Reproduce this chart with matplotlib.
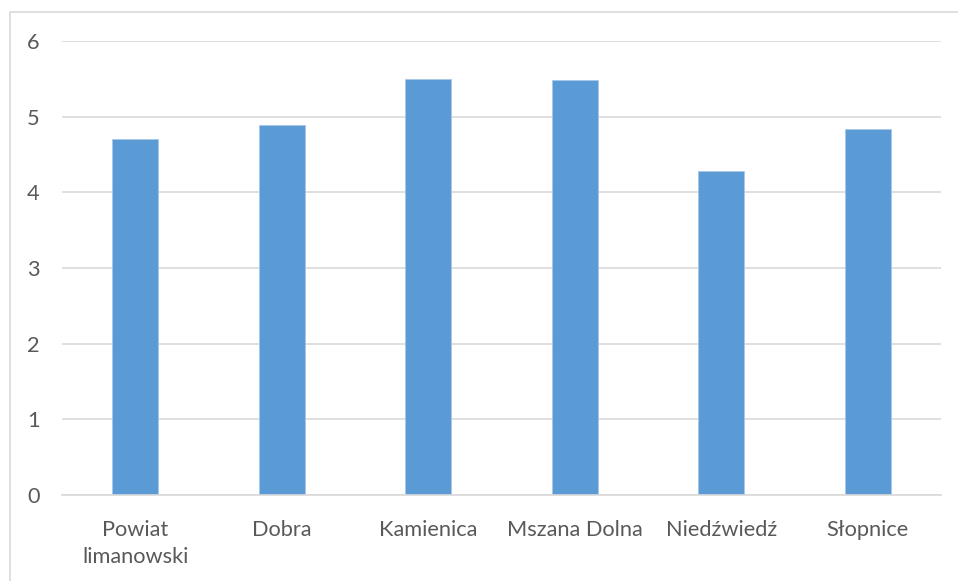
import matplotlib
matplotlib.use('Agg')
from matplotlib import pyplot as plt
from matplotlib.patches import Rectangle


categories = ['Powiat\nlimanowski', 'Dobra', 'Kamienica', 'Mszana Dolna',
              'Niedźwiedź', 'Słopnice']
values = [4.70, 4.89, 5.50, 5.48, 4.28, 4.84]
yticks = [0, 1, 2, 3, 4, 5, 6]

W, H = 958., 581.
bar_color = '#5B9BD5'
grid_color = '#D9D9D9'
text_color = '#595959'

plt.rcParams['font.family'] = ['Lato', 'DejaVu Sans']

fig = plt.figure(figsize=(W / 100., H / 100.), dpi=100)
fig.patch.set_facecolor('white')

# chart area frame (runs off the right and bottom edge)
fig.patches.append(Rectangle(
    (10. / W, -0.1), 1.1, 1. - 12. / H + 0.1,
    transform=fig.transFigure, fill=False, edgecolor=grid_color, lw=1.2))

ax = fig.add_axes([62. / W, 1. - 495. / H, (941. - 62.) / W, (495. - 41.) / H])

xs = list(range(len(categories)))
ax.bar(xs, values, width=0.315, color=bar_color, edgecolor='#A9C8EA',
       linewidth=0.6, zorder=3)

ax.set_xlim(-0.5, len(categories) - 0.5)
ax.set_ylim(0, 6)
ax.set_yticks(yticks)
ax.set_xticks(xs)
ax.set_xticklabels(categories, linespacing=1.45)

ax.yaxis.grid(True, color=grid_color, lw=1.2, zorder=0)
for s in ['top', 'right', 'left']:
    ax.spines[s].set_visible(False)
ax.spines['bottom'].set_color(grid_color)
ax.spines['bottom'].set_linewidth(1.2)
ax.spines['bottom'].set_zorder(4)

ax.tick_params(axis='both', length=0, labelsize=15.7, colors=text_color)
ax.tick_params(axis='y', pad=16)
ax.tick_params(axis='x', pad=18)

fig.savefig('out.png', dpi=100)
